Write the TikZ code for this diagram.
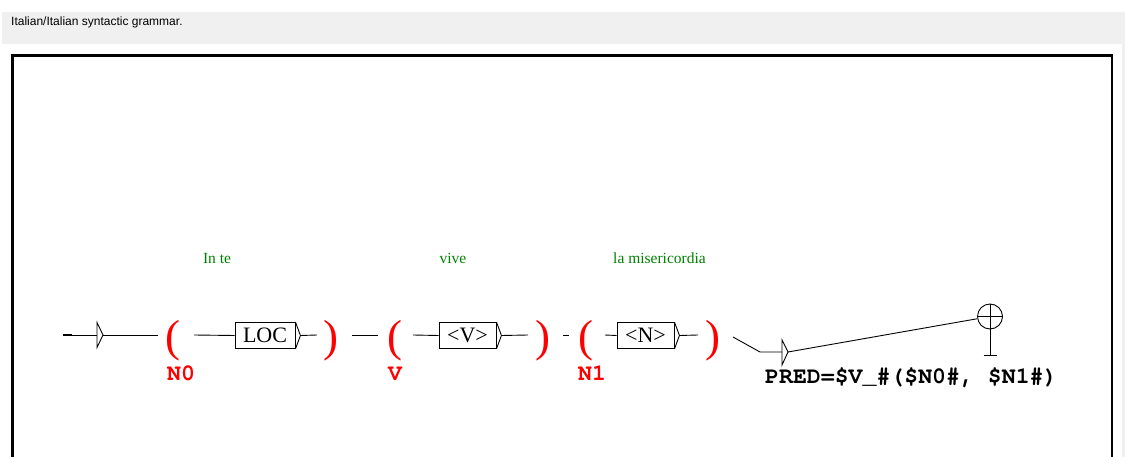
\documentclass[tikz,border=0pt]{standalone}
\usepackage{fontspec}
\setmainfont{Liberation Serif}
\newfontfamily\uisans{Liberation Sans}
\newfontfamily\cmono{TeX Gyre Cursor}
\definecolor{bandgray}{RGB}{240,240,240}
\definecolor{pred}{RGB}{255,0,0}
\definecolor{pgreen}{RGB}{0,128,0}
\tikzset{
  wire/.style={line width=0.9pt, black},
  boxnode/.style={draw, line width=0.9pt, minimum height=26pt, inner sep=0pt, font=\fontsize{22}{25}\selectfont},
  paren/.style={text=pred, inner sep=0pt, anchor=base, font=\fontsize{45}{50}\selectfont},
  varlabel/.style={text=pred, inner sep=0pt, anchor=base, font=\cmono\bfseries\fontsize{23.2}{27}\selectfont},
  outlabel/.style={text=black, inner sep=0pt, anchor=base west, font=\cmono\bfseries\fontsize{23.2}{27}\selectfont},
  glabel/.style={text=pgreen, inner sep=0pt, anchor=base, font=\fontsize{15.5}{18}\selectfont},
  finalstate/.style={draw, circle, line width=0.9pt, minimum size=25pt, inner sep=0pt},
}
\begin{document}
\begin{tikzpicture}[x=1pt, y=-1pt]
\useasboundingbox (0,0) rectangle (1125,457);
% window chrome
\fill[bandgray] (2,12) rectangle (1125,44);
\fill[bandgray] (1122,44) rectangle (1125,457);
\node[anchor=base west, inner sep=0pt, font=\uisans\fontsize{12}{14}\selectfont] (title) at (11,26) {Italian/Italian syntactic grammar.};
\draw[line width=2.6pt] (12.5,470) |- (1112,55.5) -- (1112,470);

% boxes
\node[boxnode, minimum width=60pt] (loc) at (265,335.5) {LOC};
\node[boxnode, minimum width=57pt] (vb) at (467.5,335.5) {<V>};
\node[boxnode, minimum width=57pt] (nb) at (645.5,335.5) {<N>};
\foreach \b in {loc,vb,nb}{
  \draw[wire] (\b.north east) -- ([xshift=5pt]\b.east) coordinate (\b tip) -- (\b.south east);
}

% parentheses
\node[paren] (p1) at (173,351) {(};
\node[paren] (p2) at (331,351) {)};
\node[paren] (p3) at (395,351) {(};
\node[paren] (p4) at (543,351) {)};
\node[paren] (p5) at (586,351) {(};
\node[paren] (p6) at (713,351) {)};

% variable labels
\node[varlabel] (n0) at (181,380) {N0};
\node[varlabel] (vl) at (395,380) {V};
\node[varlabel] (n1) at (592,380) {N1};

% green glosses
\node[glabel] (g1) at (217,264) {In te};
\node[glabel] (g2) at (453,264) {vive};
\node[glabel] (g3) at (659.5,264) {la misericordia};

% initial state
\coordinate (a0) at (63,335);
\coordinate (a1) at (72,335);
\coordinate (ibase) at (97,335);
\coordinate (itip) at (103,335);
\draw[line width=2pt] (a0) -- (a1);
\draw[wire] (a1) -- (ibase);
\draw[wire] (97,322.5) -- (itip) -- (97,347.5) -- cycle;

% connectors
\coordinate (c1) at (158,335);
\coordinate (c2) at (194,335);
\coordinate (c3) at (317,335);
\coordinate (c4) at (352,335);
\coordinate (c5) at (378,335);
\coordinate (c6) at (413,335);
\coordinate (c7) at (528,335);
\coordinate (c8) at (563,335);
\coordinate (c9) at (569,335);
\coordinate (c10) at (605,335);
\coordinate (c11) at (698,335);
\coordinate (c12) at (733,337);
\coordinate (fbase) at (782,352);
\coordinate (ftip) at (788,352);
\draw[wire] (itip) -- (c1);
\draw[wire] (c2) -- (loc.west);
\draw[wire] (loctip) -- (c3);
\draw[wire] (c4) -- (c5);
\draw[wire] (c6) -- (vb.west);
\draw[wire] (vbtip) -- (c7);
\draw[wire] (c8) -- (c9);
\draw[wire] (c10) -- (nb.west);
\draw[wire] (nbtip) -- (c11);
\draw[wire] (c12) -- (760,352) -- (fbase);
\draw[wire] (782,340) -- (ftip) -- (782,365) -- cycle;

% final state
\node[finalstate] (fin) at (990,316.5) {};
\draw[wire] (ftip) -- (fin);
\draw[wire] (fin.west) -- (fin.east);
\draw[wire] (fin.north) -- (fin.south) -- ++(0,26) coordinate (stem);
\draw[wire] ([xshift=-6.5pt]stem) -- ([xshift=6.5pt]stem);

% output
\node[outlabel] (out) at (765,383) {PRED=\$V\_\#(\$N0\#, \$N1\#)};
\end{tikzpicture}
\end{document}
